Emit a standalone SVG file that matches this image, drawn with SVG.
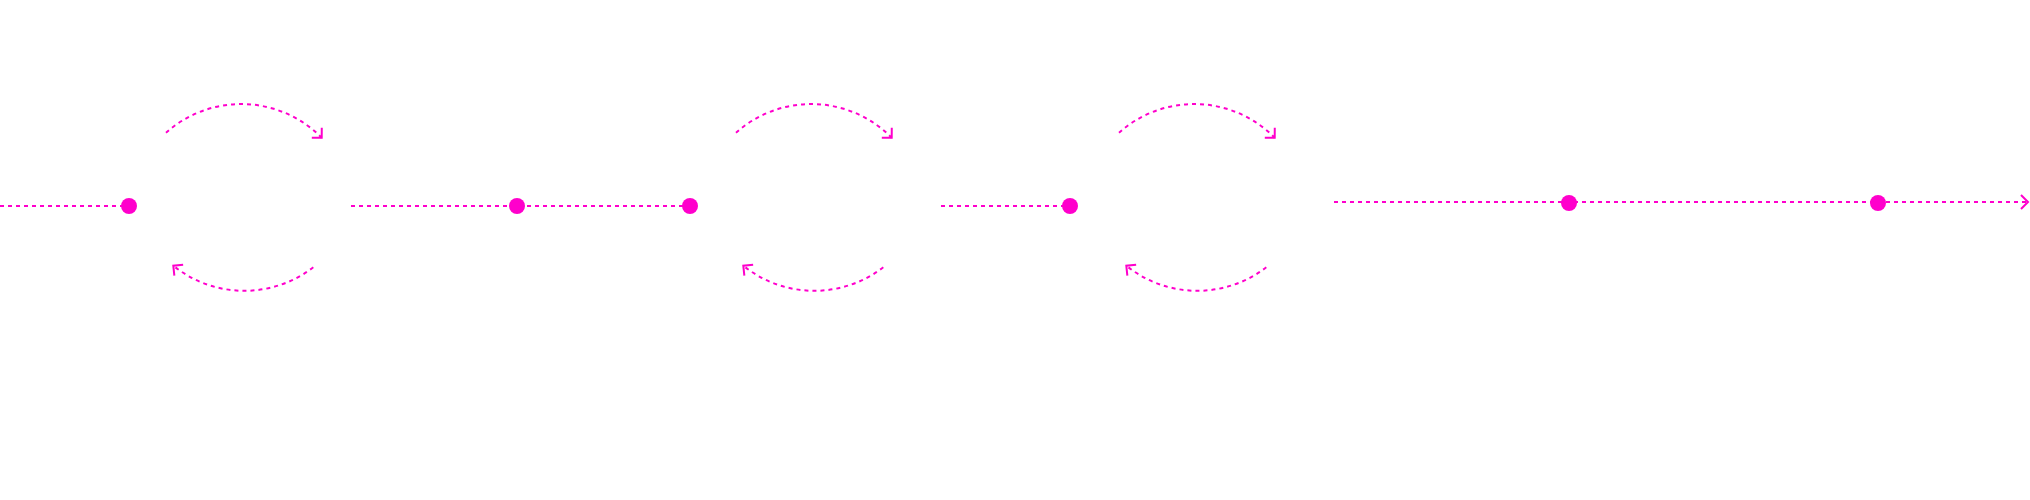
<svg xmlns="http://www.w3.org/2000/svg" width="2030" height="500" viewBox="0 0 2030 500">
  <style>
    .c { fill: none; stroke: #FF00CC; stroke-width: 2; stroke-dasharray: 4 4; }
    .dot { fill: #FF00CC; stroke: none; }
  </style>
  <defs>
    <marker id="arr" markerUnits="userSpaceOnUse" viewBox="-10 -10 12 20" refX="0" refY="0" markerWidth="12" markerHeight="20" orient="auto" overflow="visible">
      <path d="M-7,-7 L0,0 L-7,7" fill="none" stroke="#FF00CC" stroke-width="2"/>
    </marker>
  </defs>
  <rect width="2030" height="500" fill="#ffffff"/>
  <g id="connectors">
    <path class="c" d="M0,206 H129"/>
    <path class="c" d="M351,206 H690"/>
    <path class="c" d="M941,206 H1070"/>
    <path class="c" d="M1334,202 H2028" marker-end="url(#arr)"/>
    <path class="c" d="M166,132.7 A113,113 0 0 1 321.7,137.7" marker-end="url(#arr)"/>
    <path class="c" d="M313.3,267.3 A113,113 0 0 1 173.3,265.7" marker-end="url(#arr)"/>
    <path class="c" d="M736,132.7 A113,113 0 0 1 891.7,137.7" marker-end="url(#arr)"/>
    <path class="c" d="M883.3,267.3 A113,113 0 0 1 743.3,265.7" marker-end="url(#arr)"/>
    <path class="c" d="M1119,132.7 A113,113 0 0 1 1274.7,137.7" marker-end="url(#arr)"/>
    <path class="c" d="M1266.3,267.3 A113,113 0 0 1 1126.3,265.7" marker-end="url(#arr)"/>
  </g>
  <g id="node1"><circle class="dot" cx="129" cy="206" r="8"/></g>
  <g id="node2"><circle class="dot" cx="517" cy="206" r="8"/></g>
  <g id="node3"><circle class="dot" cx="690" cy="206" r="8"/></g>
  <g id="node4"><circle class="dot" cx="1070" cy="206" r="8"/></g>
  <g id="node5"><circle class="dot" cx="1569" cy="203" r="8"/></g>
  <g id="node6"><circle class="dot" cx="1878" cy="203" r="8"/></g>
</svg>
